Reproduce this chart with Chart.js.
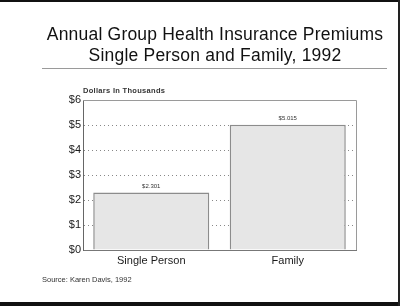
<!DOCTYPE html>
<html>
<head>
<meta charset="utf-8">
<script src="https://cdn.jsdelivr.net/npm/chart.js@4"></script>
<style>
  html, body { margin: 0; padding: 0; background: #fff; }
  #wrap { position: relative; width: 400px; height: 306px; overflow: hidden; font-family: "Liberation Sans", Arial, sans-serif; color: #1a1a1a; }
  canvas { position: absolute; left: 0; top: 0; }
  .title { position: absolute; left: 0; width: 430px; text-align: center; font-size: 17.5px; letter-spacing: 0.2px; color: #111; }
  #rule { position: absolute; left: 42px; top: 68px; width: 345px; height: 1px; background: #9a9a9a; }
  #units { position: absolute; left: 83px; top: 86px; font-size: 7.5px; font-weight: bold; letter-spacing: 0.3px; color: #333; }
  #source { position: absolute; left: 42px; top: 275px; font-size: 7.5px; color: #333; }
  #topb { position: absolute; left: 0; top: 0; width: 400px; height: 2px; background: #111; }
  #botb { position: absolute; left: 0; top: 302px; width: 400px; height: 4px; background: #111; }
  #rightb { position: absolute; left: 398px; top: 0; width: 2px; height: 306px; background: #222; }
</style>
</head>
<body>
<div id="wrap">
  <canvas id="chart" width="400" height="306"></canvas>
  <div class="title" style="top:24px">Annual Group Health Insurance Premiums</div>
  <div class="title" style="top:45px">Single Person and Family, 1992</div>
  <div id="rule"></div>
  <div id="units">Dollars In Thousands</div>
  <div id="source">Source: Karen Davis, 1992</div>
  <div id="topb"></div>
  <div id="botb"></div>
  <div id="rightb"></div>
</div>
<script>
// ===== DATA =====
const categories = ["Single Person", "Family"];
const premiums = [2.301, 5.015];
const valueLabels = ["$2.301", "$5.015"];
const yTicks = [0, 1, 2, 3, 4, 5, 6];

// frame on top and right of the plot
const frame = {
  id: "frame",
  afterDraw(chart) {
    const { ctx, chartArea: a } = chart;
    ctx.save();
    ctx.strokeStyle = "#9a9a9a";
    ctx.lineWidth = 1;
    ctx.beginPath();
    ctx.moveTo(a.left, a.top + 0.5);
    ctx.lineTo(a.right + 0.5, a.top + 0.5);
    ctx.lineTo(a.right + 0.5, a.bottom);
    ctx.stroke();
    ctx.restore();
  }
};

// value labels above the bars
const barValues = {
  id: "barValues",
  afterDatasetsDraw(chart) {
    const { ctx } = chart;
    const meta = chart.getDatasetMeta(0);
    ctx.save();
    ctx.font = "6px 'Liberation Sans', Arial, sans-serif";
    ctx.fillStyle = "#333";
    ctx.textAlign = "center";
    ctx.textBaseline = "bottom";
    meta.data.forEach((bar, i) => {
      ctx.fillText(valueLabels[i], bar.x, bar.y - 3);
    });
    ctx.restore();
  }
};

new Chart(document.getElementById("chart"), {
  type: "bar",
  data: {
    labels: categories,
    datasets: [{
      data: premiums,
      backgroundColor: "#e6e6e6",
      borderColor: "#8c8c8c",
      borderWidth: 1.5,
      categoryPercentage: 0.85,
      barPercentage: 1
    }]
  },
  options: {
    responsive: false,
    animation: false,
    devicePixelRatio: 1,
    layout: { padding: { left: 43, right: 44, top: 100, bottom: 0 } },
    plugins: { legend: { display: false }, tooltip: { enabled: false } },
    scales: {
      x: {
        grid: { display: false },
        border: { color: "#777", width: 1 },
        ticks: { color: "#1a1a1a", font: { family: "'Liberation Sans', Arial, sans-serif", size: 11 }, padding: -4 },
        afterFit: s => { s.height = 56; }
      },
      y: {
        min: 0,
        max: 6,
        afterBuildTicks: s => { s.ticks = yTicks.map(v => ({ value: v })); },
        ticks: {
          color: "#1a1a1a",
          padding: 2,
          font: { family: "'Liberation Sans', Arial, sans-serif", size: 11 },
          callback: v => "$" + v
        },
        grid: { color: "#888", lineWidth: 1, drawTicks: false },
        border: { color: "#666", width: 1, dash: [1, 3] },
        afterFit: s => { s.width = 40; }
      }
    }
  },
  plugins: [frame, barValues]
});
</script>
</body>
</html>
